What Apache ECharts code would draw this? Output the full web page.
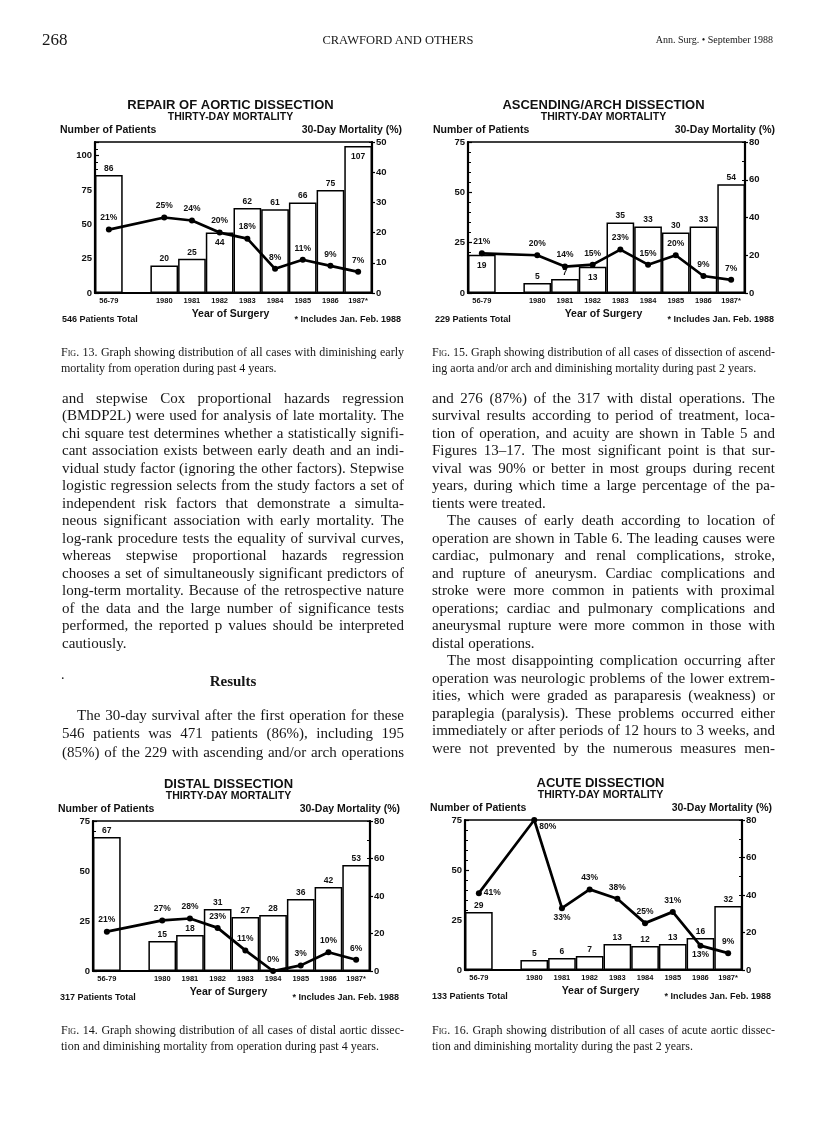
<!DOCTYPE html>
<html>
<head>
<meta charset="utf-8">
<script src="https://cdn.jsdelivr.net/npm/echarts@6/dist/echarts.min.js"></script>
<style>
html,body{margin:0;padding:0;background:#fff;}
#page{position:relative;width:816px;height:1137px;overflow:hidden;font-family:'Liberation Serif','Times New Roman',serif;color:#161616;}
#chart{position:absolute;left:0;top:0;width:816px;height:1137px;}
.t{position:absolute;white-space:nowrap;line-height:1;}
.col{position:absolute;font-size:15px;line-height:17.5px;}
.ln{white-space:nowrap;}
.ln.j{white-space:normal;text-align:justify;text-align-last:justify;}
.ind{padding-left:15px;}
.cap{position:absolute;width:343px;font-size:12px;line-height:15.5px;}
.sc{font-variant:small-caps;}
</style>
</head>
<body>
<div id="page">
  <div id="chart"></div>

  <div class="t" style="left:42px;top:31px;font-size:17px;">268</div>
  <div class="t" style="left:398px;top:34px;font-size:12.5px;transform:translateX(-50%);">CRAWFORD AND OTHERS</div>
  <div class="t" style="right:43px;top:35px;font-size:10px;">Ann. Surg. • September 1988</div>

  <div class="cap" style="left:61px;top:345px;">
    <div class="ln j">F<span class="sc">ig</span>. 13. Graph showing distribution of all cases with diminishing early</div>
    <div class="ln">mortality from operation during past 4 years.</div>
  </div>
  <div class="cap" style="left:432px;top:345px;">
    <div class="ln j">F<span class="sc">ig</span>. 15. Graph showing distribution of all cases of dissection of ascend-</div>
    <div class="ln">ing aorta and/or arch and diminishing mortality during past 2 years.</div>
  </div>
  <div class="cap" style="left:61px;top:1023px;">
    <div class="ln j">F<span class="sc">ig</span>. 14. Graph showing distribution of all cases of distal aortic dissec-</div>
    <div class="ln">tion and diminishing mortality from operation during past 4 years.</div>
  </div>
  <div class="cap" style="left:432px;top:1023px;">
    <div class="ln j">F<span class="sc">ig</span>. 16. Graph showing distribution of all cases of acute aortic dissec-</div>
    <div class="ln">tion and diminishing mortality during the past 2 years.</div>
  </div>

  <div class="col" style="left:62px;top:389.5px;width:342px;">
    <div class="ln j">and stepwise Cox proportional hazards regression</div>
    <div class="ln j">(BMDP2L) were used for analysis of late mortality. The</div>
    <div class="ln j">chi square test determines whether a statistically signifi-</div>
    <div class="ln j">cant association exists between early death and an indi-</div>
    <div class="ln j">vidual study factor (ignoring the other factors). Stepwise</div>
    <div class="ln j">logistic regression selects from the study factors a set of</div>
    <div class="ln j">independent risk factors that demonstrate a simulta-</div>
    <div class="ln j">neous significant association with early mortality. The</div>
    <div class="ln j">log-rank procedure tests the equality of survival curves,</div>
    <div class="ln j">whereas stepwise proportional hazards regression</div>
    <div class="ln j">chooses a set of simultaneously significant predictors of</div>
    <div class="ln j">long-term mortality. Because of the retrospective nature</div>
    <div class="ln j">of the data and the large number of significance tests</div>
    <div class="ln j">performed, the reported p values should be interpreted</div>
    <div class="ln">cautiously.</div>
  </div>
  <div class="t" style="left:61px;top:668px;font-size:14px;">.</div>
  <div class="t" style="left:233px;top:674px;font-size:15px;font-weight:bold;transform:translateX(-50%);">Results</div>
  <div class="col" style="left:62px;top:706px;width:342px;line-height:18.3px;">
    <div class="ln j ind">The 30-day survival after the first operation for these</div>
    <div class="ln j">546 patients was 471 patients (86%), including 195</div>
    <div class="ln j">(85%) of the 229 with ascending and/or arch operations</div>
  </div>

  <div class="col" style="left:432px;top:389.5px;width:343px;">
    <div class="ln j">and 276 (87%) of the 317 with distal operations. The</div>
    <div class="ln j">survival results according to period of treatment, loca-</div>
    <div class="ln j">tion of operation, and acuity are shown in Table 5 and</div>
    <div class="ln j">Figures 13–17. The most significant point is that sur-</div>
    <div class="ln j">vival was 90% or better in most groups during recent</div>
    <div class="ln j">years, during which time a large percentage of the pa-</div>
    <div class="ln">tients were treated.</div>
    <div class="ln j ind">The causes of early death according to location of</div>
    <div class="ln j">operation are shown in Table 6. The leading causes were</div>
    <div class="ln j">cardiac, pulmonary and renal complications, stroke,</div>
    <div class="ln j">and rupture of aneurysm. Cardiac complications and</div>
    <div class="ln j">stroke were more common in patients with proximal</div>
    <div class="ln j">operations; cardiac and pulmonary complications and</div>
    <div class="ln j">aneurysmal rupture were more common in those with</div>
    <div class="ln">distal operations.</div>
    <div class="ln j ind">The most disappointing complication occurring after</div>
    <div class="ln j">operation was neurologic problems of the lower extrem-</div>
    <div class="ln j">ities, which were graded as paraparesis (weakness) or</div>
    <div class="ln j">paraplegia (paralysis). These problems occurred either</div>
    <div class="ln j">immediately or after periods of 12 hours to 3 weeks, and</div>
    <div class="ln j">were not prevented by the numerous measures men-</div>
  </div>
</div>

<script>
// ---------- data ----------
const years = ['56-79', '', '1980', '1981', '1982', '1983', '1984', '1985', '1986', '1987*'];

const fig13Title = 'REPAIR OF AORTIC DISSECTION';
const fig13Total = '546 Patients Total';
const fig13Patients = [86, null, 20, 25, 44, 62, 61, 66, 75, 107];
const fig13Mortality = [21, null, 25, 24, 20, 18, 8, 11, 9, 7];

const fig15Title = 'ASCENDING/ARCH DISSECTION';
const fig15Total = '229 Patients Total';
const fig15Patients = [19, null, 5, 7, 13, 35, 33, 30, 33, 54];
const fig15Mortality = [21, null, 20, 14, 15, 23, 15, 20, 9, 7];

const fig14Title = 'DISTAL DISSECTION';
const fig14Total = '317 Patients Total';
const fig14Patients = [67, null, 15, 18, 31, 27, 28, 36, 42, 53];
const fig14Mortality = [21, null, 27, 28, 23, 11, 0, 3, 10, 6];

const fig16Title = 'ACUTE DISSECTION';
const fig16Total = '133 Patients Total';
const fig16Patients = [29, null, 5, 6, 7, 13, 12, 13, 16, 32];
const fig16Mortality = [41, null, 80, 33, 43, 38, 25, 31, 13, 9];

const subTitle = 'THIRTY-DAY MORTALITY';
const leftName = 'Number of Patients';
const rightName = '30-Day Mortality (%)';
const xName = 'Year of Surgery';
const footNote = '* Includes Jan. Feb. 1988';

// ---------- layout / style ----------
const FONT = "'Liberation Sans', Arial, Helvetica, sans-serif";
const panels = [
  { title: fig13Title, total: fig13Total, patients: fig13Patients, mortality: fig13Mortality,
    box: [95, 142, 277, 151], leftMax: 110, rightMax: 50, rightStep: 10, rightMinor: 5,
    barInside: ['1982', '1987*'], linePos: {} },
  { title: fig15Title, total: fig15Total, patients: fig15Patients, mortality: fig15Mortality,
    box: [468, 142, 277, 151], leftMax: 75, rightMax: 80, rightStep: 20, rightMinor: 10,
    barInside: ['56-79', '1982'], linePos: {} },
  { title: fig14Title, total: fig14Total, patients: fig14Patients, mortality: fig14Mortality,
    box: [93, 821, 277, 150], leftMax: 75, rightMax: 80, rightStep: 20, rightMinor: 10,
    barInside: [], linePos: {} },
  { title: fig16Title, total: fig16Total, patients: fig16Patients, mortality: fig16Mortality,
    box: [465, 820, 277, 150], leftMax: 75, rightMax: 80, rightStep: 20, rightMinor: 10,
    barInside: [],
    linePos: { '56-79': ['right', [0, 0]], '1980': ['right', [0, 7]], '1981': ['bottom', [0, 0]], '1986': ['bottom', [0, 0]] } }
];

const grids = [], xAxes = [], yAxes = [], series = [], graphics = [];

function txt(text, x, y, size, align, weight) {
  graphics.push({
    type: 'text', silent: true,
    style: { text: text, x: x, y: y, fill: '#111', textAlign: align, textVerticalAlign: 'middle',
             font: (weight || 'bold') + ' ' + size + 'px ' + FONT }
  });
}

panels.forEach((p, i) => {
  const [L, T, W, H] = p.box;
  const R = L + W, B = T + H, C = L + W / 2 - 3;
  grids.push({ left: L, top: T, width: W, height: H, show: true, borderColor: '#000', borderWidth: 1.6,
               backgroundColor: 'transparent', containLabel: false, outerBoundsMode: 'none' });
  xAxes.push({
    type: 'category', gridIndex: i, data: years, boundaryGap: true,
    axisLine: { show: true, lineStyle: { color: '#000', width: 2 } },
    axisTick: { show: false },
    axisLabel: { interval: 0, color: '#111', fontFamily: FONT, fontWeight: 'bold', fontSize: 7.5, margin: 4 }
  });
  const yBase = { type: 'value', gridIndex: i, min: 0, splitLine: { show: false } };
  // main left axis (patients)
  yAxes.push(Object.assign({}, yBase, {
    max: p.leftMax, interval: 25, position: 'left',
    axisLine: { show: true, lineStyle: { color: '#000', width: 2.2 } },
    axisTick: { show: true, inside: true, length: 4, lineStyle: { color: '#000', width: 1.2 } },
    axisLabel: { color: '#111', fontFamily: FONT, fontWeight: 'bold', fontSize: 9.5, margin: 3,
                 formatter: v => (v % 25 === 0 ? String(v) : '') }
  }));
  // main right axis (mortality)
  yAxes.push(Object.assign({}, yBase, {
    max: p.rightMax, interval: p.rightStep, position: 'right',
    axisLine: { show: true, lineStyle: { color: '#000', width: 2.2 } },
    axisTick: { show: true, inside: false, length: 3, lineStyle: { color: '#000', width: 1.2 } },
    axisLabel: { color: '#111', fontFamily: FONT, fontWeight: 'bold', fontSize: 9.5, margin: 4 }
  }));
  // minor tick axes
  yAxes.push(Object.assign({}, yBase, {
    max: p.leftMax, interval: 5, position: 'left',
    axisLine: { show: false }, axisLabel: { show: false },
    axisTick: { show: true, inside: true, length: 3, lineStyle: { color: '#000', width: 1 } }
  }));
  yAxes.push(Object.assign({}, yBase, {
    max: p.rightMax, interval: p.rightMinor, position: 'right',
    axisLine: { show: false }, axisLabel: { show: false },
    axisTick: { show: true, inside: true, length: 3, lineStyle: { color: '#000', width: 1 } }
  }));

  series.push({
    type: 'bar', xAxisIndex: i, yAxisIndex: 4 * i, barCategoryGap: '0%', z: 2,
    itemStyle: { color: '#fff', borderColor: '#000', borderWidth: 1.5 },
    label: { show: true, position: 'top', distance: 2, color: '#111', fontFamily: FONT, fontWeight: 'bold', fontSize: 8.5 },
    data: p.patients.map((v, k) => {
      const inside = p.barInside.indexOf(years[k]) >= 0;
      return inside ? { value: v, label: { position: 'insideTop', distance: 6 } } : { value: v };
    })
  });
  series.push({
    type: 'line', xAxisIndex: i, yAxisIndex: 4 * i + 1, connectNulls: true, z: 5,
    symbol: 'circle', symbolSize: 6,
    lineStyle: { color: '#000', width: 2.7 }, itemStyle: { color: '#000' },
    label: { show: true, position: 'top', distance: 4, color: '#111', fontFamily: FONT, fontWeight: 'bold', fontSize: 8.5,
             formatter: q => q.value + '%' },
    data: p.mortality.map((v, k) => {
      const lp = p.linePos[years[k]];
      return lp ? { value: v, label: { position: lp[0], offset: lp[1], distance: 2 } } : { value: v };
    })
  });

  txt(p.title, C, T - 37, 13, 'center');
  txt(subTitle, C, T - 24.5, 10.5, 'center');
  txt(leftName, L - 35, T - 12, 10.5, 'left');
  txt(rightName, R + 30, T - 12, 10.5, 'right');
  txt(xName, C, B + 21, 10.5, 'center');
  txt(p.total, L - 33, B + 26.5, 9, 'left');
  txt(footNote, R + 29, B + 26.5, 9, 'right');
});

const chart = echarts.init(document.getElementById('chart'), null, { renderer: 'canvas' });
chart.setOption({
  animation: false,
  backgroundColor: 'transparent',
  grid: grids, xAxis: xAxes, yAxis: yAxes, series: series, graphic: graphics
});

// fit justified text lines into their column width
document.querySelectorAll('.ln').forEach(el => {
  const wasJ = el.classList.contains('j');
  el.classList.remove('j');
  const span = document.createElement('span');
  while (el.firstChild) span.appendChild(el.firstChild);
  el.appendChild(span);
  const pad = parseFloat(getComputedStyle(el).paddingLeft) || 0;
  const avail = el.clientWidth - pad - 0.5;
  const w = span.getBoundingClientRect().width;
  if (w > avail) {
    const n = span.textContent.length;
    el.style.letterSpacing = ((avail - w) / n) + 'px';
  }
  if (wasJ) el.classList.add('j');
});
</script>
</body>
</html>
